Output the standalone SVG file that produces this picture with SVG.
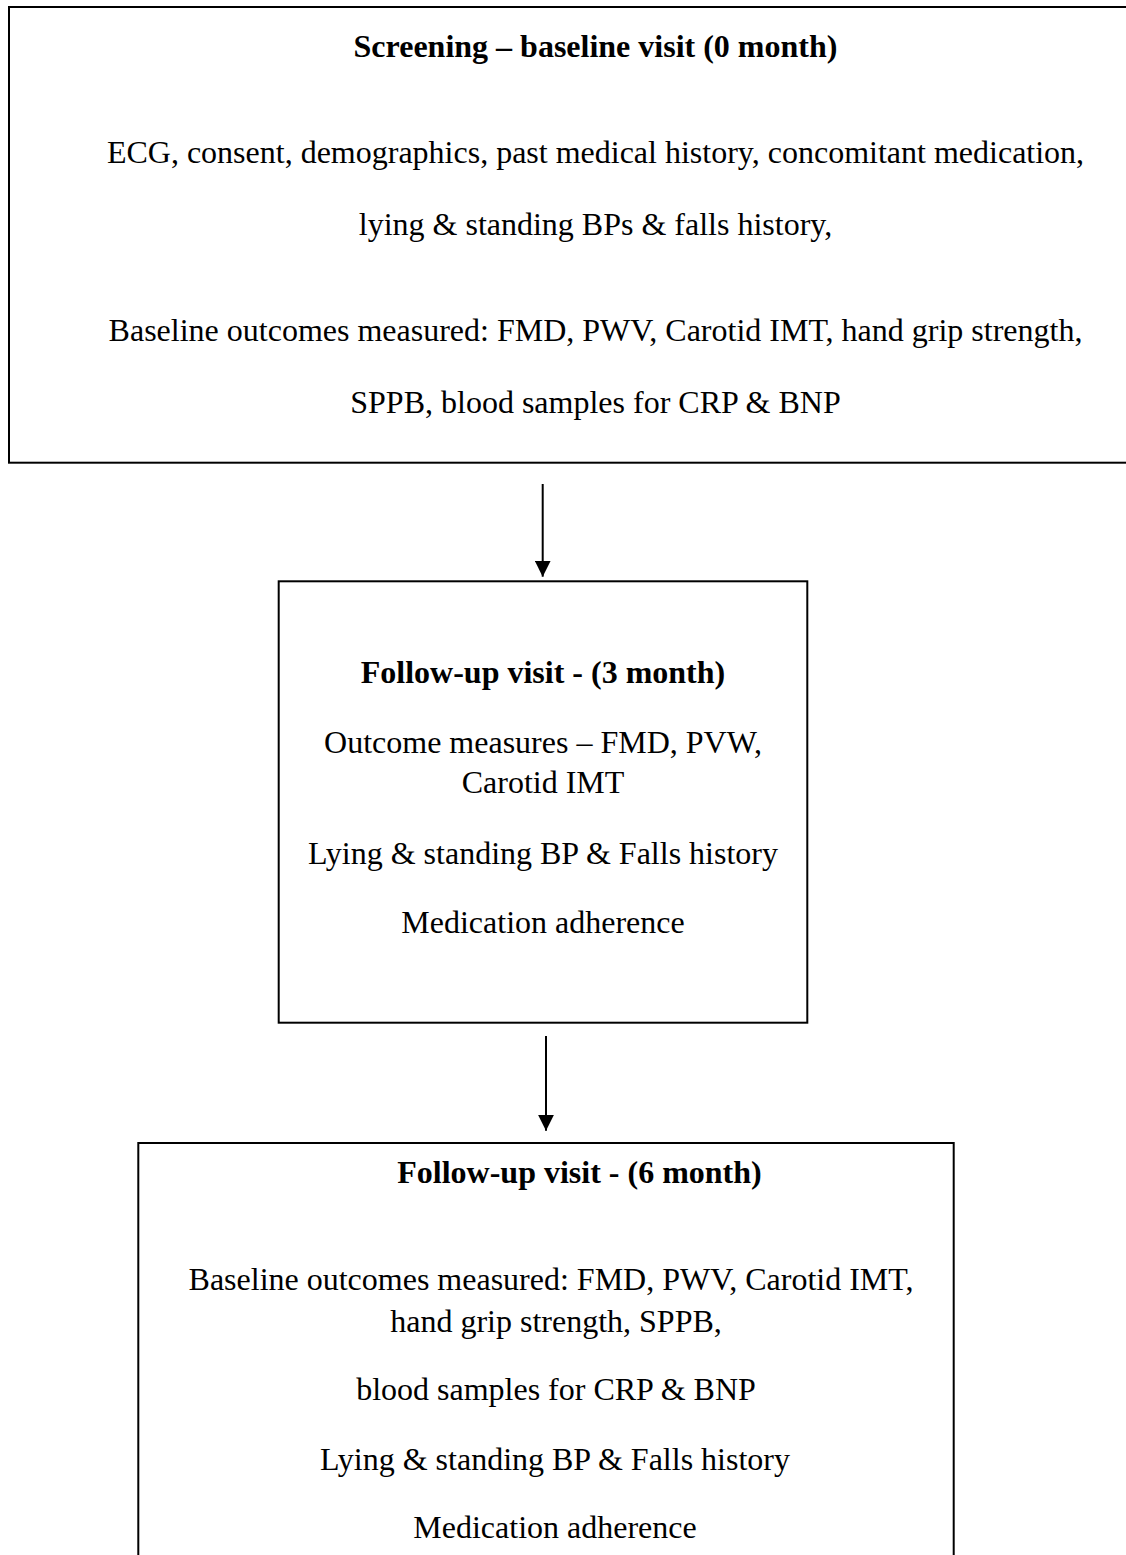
<svg xmlns="http://www.w3.org/2000/svg" width="1126" height="1555" viewBox="0 0 1126 1555">
<defs>
<style>
.box{fill:#ffffff;stroke:#000000;stroke-width:2}
.t{font-family:"Liberation Serif","Times New Roman",serif;font-size:32px;fill:#000000;text-anchor:middle}
.b{font-weight:bold}
.c{stroke:#000000;stroke-width:2;fill:none}
</style>
<marker id="ah" markerWidth="8" markerHeight="8" refX="8" refY="4" orient="auto" markerUnits="strokeWidth">
<path d="M0,0 L8,4 L0,8 Z" fill="#000000"/>
</marker>
</defs>
<rect width="1126" height="1555" fill="#ffffff"/>
<g id="connectors">
<line class="c" x1="542.7" y1="484" x2="542.7" y2="576.7" marker-end="url(#ah)"/>
<line class="c" x1="546" y1="1036" x2="546" y2="1130.7" marker-end="url(#ah)"/>
</g>
<g id="screening">
<rect class="box" x="9" y="7" width="1200" height="455.7"/>
<text class="t b" x="595.5" y="57">Screening – baseline visit (0 month)</text>
<text class="t" x="595.5" y="162.7">ECG, consent, demographics, past medical history, concomitant medication,</text>
<text class="t" x="595.5" y="235">lying &amp; standing BPs &amp; falls history,</text>
<text class="t" x="595.5" y="340.7">Baseline outcomes measured: FMD, PWV, Carotid IMT, hand grip strength,</text>
<text class="t" x="595.5" y="413">SPPB, blood samples for CRP &amp; BNP</text>
</g>
<g id="followup3">
<rect class="box" x="278.7" y="581.3" width="528.6" height="441.4"/>
<text class="t b" x="543" y="683">Follow-up visit - (3 month)</text>
<text class="t" x="543" y="753">Outcome measures – FMD, PVW,</text>
<text class="t" x="543" y="793">Carotid IMT</text>
<text class="t" x="543" y="864">Lying &amp; standing BP &amp; Falls history</text>
<text class="t" x="543" y="933">Medication adherence</text>
</g>
<g id="followup6">
<rect class="box" x="138.3" y="1143" width="815.4" height="500"/>
<text class="t b" x="579.5" y="1183">Follow-up visit - (6 month)</text>
<text class="t" x="551" y="1290">Baseline outcomes measured: FMD, PWV, Carotid IMT,</text>
<text class="t" x="556" y="1332">hand grip strength, SPPB,</text>
<text class="t" x="556" y="1400">blood samples for CRP &amp; BNP</text>
<text class="t" x="555" y="1470">Lying &amp; standing BP &amp; Falls history</text>
<text class="t" x="555" y="1538">Medication adherence</text>
</g>
</svg>
